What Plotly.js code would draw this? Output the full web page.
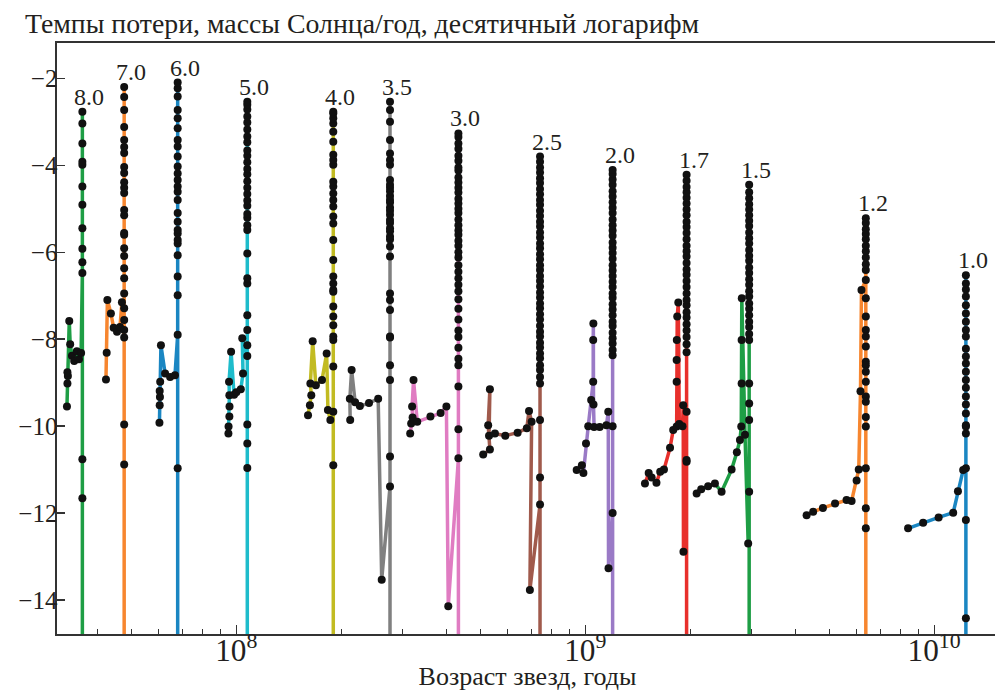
<!DOCTYPE html>
<html>
<head>
<meta charset="utf-8">
<script src="https://cdn.plot.ly/plotly-3.0.1.min.js"></script>
<style>
  html, body { margin: 0; padding: 0; overflow: hidden; background: #fff; }
  #chart { width: 1000px; height: 691px; }
</style>
</head>
<body>
<div id="chart"></div>
<script>
// Mass-loss tracks: age in years, log10 of mass-loss rate (M_sun / yr).
// Each track: early evolution (age/lg pairs), then the final spike at a
// nearly fixed age (tip), with its rising and falling values.

// 8.0 M_sun
const m80_age  = [3.27e7, 3.28e7, 3.29e7, 3.28e7, 3.32e7, 3.34e7, 3.38e7, 3.43e7, 3.49e7, 3.54e7, 3.59e7];
const m80_lg   = [-9.55, -9.02, -8.85, -8.76, -7.58, -8.12, -8.38, -8.50, -8.28, -8.46, -8.32];
const m80_tip  = 3.62e7;
const m80_up   = [-6.48, -6.23, -5.92, -5.45, -4.91, -4.49, -3.99, -3.92, -3.50, -3.04, -2.77];
const m80_down = [-10.76, -11.66, -17];

// 7.0 M_sun
const m70_age  = [4.23e7, 4.25e7, 4.27e7, 4.37e7, 4.45e7, 4.55e7, 4.64e7, 4.70e7];
const m70_lg   = [-8.93, -8.31, -7.10, -7.41, -7.74, -7.83, -7.72, -7.15];
const m70_tip  = 4.77e7;
const m70_up   = [-7.96, -7.79, -7.56, -7.29, -6.95, -6.60, -6.37, -6.09, -5.91, -5.60, -5.56, -5.15, -5.03,
                  -4.64, -4.52, -4.39, -4.18, -4.04, -3.72, -3.58, -3.42, -3.12, -2.73, -2.43, -2.20];
const m70_down = [-9.96, -10.88, -17];

// 6.0 M_sun
const m60_age  = [6.02e7, 6.03e7, 6.04e7, 6.03e7, 6.05e7, 6.08e7, 6.25e7, 6.46e7, 6.67e7];
const m60_lg   = [-9.92, -9.52, -9.33, -9.19, -8.98, -8.14, -8.79, -8.87, -8.83];
const m60_tip  = 6.79e7;
const m60_up   = [-7.90, -6.99, -6.56, -6.07, -5.80, -5.72, -5.57, -5.49, -5.30, -5.10, -4.80, -4.61, -4.49,
                  -4.34, -4.19, -4.03, -3.80, -3.57, -3.42, -3.15, -2.92, -2.73, -2.42, -2.23, -2.10];
const m60_down = [-10.97, -17];

// 5.0 M_sun
const m50_age  = [9.49e7, 9.50e7, 9.55e7, 9.56e7, 9.55e7, 9.53e7, 9.66e7, 9.85e7, 1.00e8, 1.03e8, 1.045e8, 1.04e8];
const m50_lg   = [-10.17, -10.01, -9.78, -9.55, -9.29, -8.98, -8.29, -9.28, -9.22, -9.15, -8.79, -7.98];
const m50_tip  = 1.075e8;
const m50_up   = [-8.39, -8.14, -7.79, -7.45, -6.72, -6.60, -6.03, -5.49, -5.38, -5.21, -5.12, -4.93, -4.81,
                  -4.66, -4.52, -4.37, -4.21, -4.09, -3.93, -3.78, -3.66, -3.47, -3.34, -3.18, -3.02, -2.88,
                  -2.72, -2.61, -2.54];
const m50_down = [-9.96, -10.40, -10.96, -17];

// 4.0 M_sun
const m40_age  = [1.605e8, 1.625e8, 1.64e8, 1.63e8, 1.655e8, 1.69e8, 1.76e8, 1.815e8, 1.83e8, 1.86e8];
const m40_lg   = [-9.75, -9.52, -9.29, -9.02, -8.05, -9.06, -8.94, -8.33, -9.63, -9.86];
const m40_tip  = 1.896e8;
const m40_up   = [-9.67, -8.63, -8.02, -7.94, -7.68, -7.48, -7.25, -6.91, -6.87, -6.72, -6.56, -6.18, -5.72,
                  -5.34, -5.18, -4.95, -4.80, -4.65, -4.49, -4.38, -3.99, -3.88, -3.76, -3.46, -3.23, -3.04,
                  -2.92, -2.81, -2.77];
const m40_down = [-10.90, -17];

// 3.5 M_sun
const m35_age  = [2.12e8, 2.115e8, 2.14e8, 2.19e8, 2.26e8, 2.40e8, 2.55e8, 2.61e8];
const m35_lg   = [-9.86, -9.37, -8.71, -9.45, -9.54, -9.47, -9.37, -13.53];
const m35_tip  = 2.757e8;
const m35_up   = [-11.39, -10.70, -8.94, -8.60, -7.96, -7.94, -7.33, -7.10, -6.95, -6.10, -5.87, -5.71, -5.64,
                  -5.52, -5.45, -5.33, -5.26, -5.14, -5.05, -4.97, -4.86, -4.80, -4.71, -4.60, -4.52, -4.45,
                  -4.34, -3.99, -3.88, -3.73, -3.42, -3.00, -2.73, -2.54];
const m35_down = [-17];

// 3.0 M_sun
const m30_age  = [3.15e8, 3.17e8, 3.20e8, 3.19e8, 3.22e8, 3.30e8, 3.60e8, 3.85e8, 4.00e8, 4.05e8];
const m30_lg   = [-10.17, -9.94, -9.80, -9.55, -8.94, -9.90, -9.78, -9.70, -9.55, -14.14];
const m30_tip  = 4.33e8;
const m30_up   = [-10.74, -10.07, -9.09, -8.60, -8.45, -8.20, -7.95, -7.80, -7.55, -7.30, -7.08, -6.90, -6.75,
                  -6.60, -6.45, -6.30, -6.12, -6.00, -5.85, -5.74, -5.60, -5.50, -5.38, -5.25, -5.10, -5.00,
                  -4.88, -4.77, -4.63, -4.52, -4.40, -4.28, -4.12, -4.05, -3.90, -3.78, -3.62, -3.50, -3.35, -3.27];
const m30_down = [-17];

// 2.5 M_sun
const m25_age  = [5.10e8, 5.33e8, 5.27e8, 5.33e8, 5.30e8, 5.51e8, 5.90e8, 6.40e8, 6.80e8, 6.90e8, 7.02e8, 6.94e8];
const m25_lg   = [-10.65, -10.54, -9.98, -9.15, -10.22, -10.17, -10.22, -10.15, -10.05, -9.65, -9.90, -13.77];
const m25_tip  = 7.42e8;
const m25_up   = [-11.80, -11.18, -9.86, -9.02, -8.87, -8.71, -8.60, -8.44, -8.33, -8.19, -8.08, -7.94, -7.83,
                  -7.69, -7.55, -7.43, -7.29, -7.18, -7.04, -6.93, -6.79, -6.66, -6.55, -6.41, -6.30, -6.16,
                  -6.05, -5.91, -5.80, -5.66, -5.55, -5.41, -5.30, -5.17, -5.05, -4.91, -4.80, -4.67, -4.55,
                  -4.41, -4.30, -4.17, -4.05, -3.92, -3.80];
const m25_down = [-17];

// 2.0 M_sun
const m20_age  = [9.45e8, 9.78e8, 9.88e8, 1.005e9, 1.02e9, 1.04e9, 1.054e9, 1.054e9, 1.055e9, 1.056e9, 1.06e9,
                  1.10e9, 1.15e9, 1.164e9, 1.166e9];
const m20_lg   = [-11.01, -10.90, -11.08, -10.40, -10.00, -9.40, -8.98, -8.02, -7.64, -9.50, -10.02,
                  -10.02, -9.98, -9.67, -13.27];
const m20_tip  = 1.198e9;
const m20_up   = [-12.00, -10.00, -8.37, -8.25, -8.10, -7.98, -7.85, -7.70, -7.60, -7.45, -7.32, -7.20, -7.05,
                  -6.95, -6.80, -6.68, -6.55, -6.42, -6.30, -6.15, -6.02, -5.90, -5.78, -5.62, -5.50, -5.38,
                  -5.25, -5.10, -4.98, -4.85, -4.72, -4.60, -4.45, -4.33, -4.20, -4.11];
const m20_down = [-17];

// 1.7 M_sun
const m17_age  = [1.483e9, 1.52e9, 1.55e9, 1.60e9, 1.64e9, 1.681e9, 1.75e9, 1.787e9, 1.828e9, 1.828e9, 1.828e9,
                  1.830e9, 1.835e9, 1.848e9, 1.86e9, 1.90e9, 1.909e9, 1.912e9];
const m17_lg   = [-11.32, -11.08, -11.18, -11.30, -11.05, -11.00, -10.50, -10.09, -10.01, -8.98, -8.48,
                  -8.02, -7.48, -7.16, -9.95, -10.00, -9.52, -12.89];
const m17_tip  = 1.952e9;
const m17_up   = [-10.82, -10.78, -9.67, -8.30, -8.12, -7.95, -7.80, -7.66, -7.50, -7.38, -7.22, -7.10, -6.95,
                  -6.80, -6.66, -6.52, -6.40, -6.25, -6.10, -5.98, -5.85, -5.70, -5.56, -5.42, -5.30, -5.15,
                  -5.02, -4.88, -4.75, -4.62, -4.50, -4.36, -4.22];
const m17_down = [-17];

// 1.5 M_sun
const m15_age  = [2.086e9, 2.15e9, 2.25e9, 2.353e9, 2.459e9, 2.627e9, 2.72e9, 2.776e9, 2.80e9, 2.807e9, 2.807e9,
                  2.81e9, 2.87e9, 2.931e9];
const m15_lg   = [-11.55, -11.45, -11.38, -11.32, -11.51, -11.00, -10.60, -10.32, -10.01, -9.02, -8.02,
                  -7.06, -10.20, -12.70];
const m15_tip  = 2.95e9;
const m15_up   = [-11.51, -9.86, -9.48, -9.02, -8.02, -7.88, -7.72, -7.60, -7.45, -7.30, -7.18, -7.02, -6.90,
                  -6.75, -6.62, -6.48, -6.35, -6.20, -6.08, -5.95, -5.80, -5.68, -5.55, -5.40, -5.28, -5.15,
                  -5.02, -4.90, -4.76, -4.62, -4.45];
const m15_down = [-17];

// 1.2 M_sun
const m12_age  = [4.31e9, 4.50e9, 4.80e9, 5.20e9, 5.61e9, 5.80e9, 5.995e9, 6.08e9, 6.15e9, 6.19e9];
const m12_lg   = [-12.05, -11.97, -11.88, -11.78, -11.70, -11.72, -11.25, -11.00, -9.20, -6.87];
const m12_tip  = 6.37e9;
const m12_up   = [-6.64, -6.41, -6.28, -6.12, -5.98, -5.85, -5.70, -5.58, -5.47, -5.33, -5.22];
const m12_down = [-7.06, -7.48, -7.79, -7.94, -8.17, -8.52, -8.60, -8.75, -8.98, -9.32, -9.44, -9.79,
                  -10.01, -10.97, -11.89, -12.35, -17];

// 1.0 M_sun
const m10_age  = [8.42e9, 9.3e9, 1.03e10, 1.134e10, 1.17e10, 1.211e10];
const m10_lg   = [-12.35, -12.22, -12.10, -11.99, -11.50, -11.01];
const m10_tip  = 1.233e10;
const m10_up   = [-10.97, -10.17, -9.98, -9.71, -9.50, -9.32, -9.12, -8.94, -8.75, -8.56, -8.40, -8.22, -7.94,
                  -7.79, -7.60, -7.41, -7.22, -7.02, -6.86, -6.72, -6.53];
const m10_down = [-10.01, -12.16, -14.42, -17];

const massLabels = ['8.0', '7.0', '6.0', '5.0', '4.0', '3.5', '3.0', '2.5', '2.0', '1.7', '1.5', '1.2', '1.0'];
const trackColors = ['#1e9e45', '#f7862f', '#1a86c2', '#1ebccb', '#c2bb22', '#808080', '#e07cc2',
                     '#a05a4c', '#9a7ac6', '#e8302c', '#1e9e45', '#f7862f', '#1a86c2'];

// Y-axis ticks (log10 of mass-loss rate)
const yTickVals = [-14, -12, -10, -8, -6, -4, -2];
const yTickText = ['\u221214', '\u221212', '\u221210', '\u22128', '\u22126', '\u22124', '\u22122'];

const trackData = [
  [m80_age, m80_lg, m80_tip, m80_up, m80_down],
  [m70_age, m70_lg, m70_tip, m70_up, m70_down],
  [m60_age, m60_lg, m60_tip, m60_up, m60_down],
  [m50_age, m50_lg, m50_tip, m50_up, m50_down],
  [m40_age, m40_lg, m40_tip, m40_up, m40_down],
  [m35_age, m35_lg, m35_tip, m35_up, m35_down],
  [m30_age, m30_lg, m30_tip, m30_up, m30_down],
  [m25_age, m25_lg, m25_tip, m25_up, m25_down],
  [m20_age, m20_lg, m20_tip, m20_up, m20_down],
  [m17_age, m17_lg, m17_tip, m17_up, m17_down],
  [m15_age, m15_lg, m15_tip, m15_up, m15_down],
  [m12_age, m12_lg, m12_tip, m12_up, m12_down],
  [m10_age, m10_lg, m10_tip, m10_up, m10_down]
];

const serif = 'Liberation Serif, Times New Roman, serif';
const ink = '#231f20';

const traces = trackData.map(([age, lg, tip, up, down], i) => ({
  type: 'scatter',
  mode: 'lines+markers',
  x: age.concat(up.map(() => tip), down.map(() => tip)),
  y: lg.concat(up, down),
  line: { color: trackColors[i], width: 3.5 },
  marker: { color: '#111', size: 8 },
  hoverinfo: 'skip',
  showlegend: false
}));

// Mass labels sit just above the highest point of each spike.
const annotations = trackData.map(([age, lg, tip, up], i) => ({
  x: Math.log10(tip),
  y: Math.max(...up),
  xref: 'x', yref: 'y',
  text: massLabels[i],
  showarrow: false,
  xanchor: 'center', yanchor: 'bottom',
  xshift: 7, yshift: 0,
  font: { family: serif, size: 24, color: ink }
}));

const layout = {
  width: 1000, height: 691,
  margin: { l: 57, r: 2, t: 43, b: 57 },
  paper_bgcolor: '#fff', plot_bgcolor: '#fff',
  font: { family: serif, size: 24, color: ink },
  title: {
    text: 'Темпы потери, массы Солнца/год, десятичный логарифм',
    font: { family: serif, size: 27.8, color: ink },
    xref: 'container', x: 0.025, xanchor: 'left',
    yref: 'container', y: 0.966, yanchor: 'middle'
  },
  xaxis: {
    type: 'log', range: [7.486, 10.183], dtick: 1, exponentformat: 'power',
    ticks: 'inside', ticklen: 9, tickwidth: 1.3, tickcolor: '#333',
    showline: true, linecolor: '#333', linewidth: 1.6, mirror: true,
    showgrid: false, zeroline: false,
    minor: { ticks: 'inside', ticklen: 5, tickwidth: 1.1, tickcolor: '#333', dtick: 'D1', showgrid: false },
    ticklabelstandoff: -11,
    tickfont: { family: serif, size: 25, color: ink },
    title: { text: 'Возраст звезд, годы', font: { family: serif, size: 26, color: ink }, standoff: 9 }
  },
  yaxis: {
    range: [-14.78, -1.19], tickmode: 'array', tickvals: yTickVals, ticktext: yTickText,
    ticks: 'inside', ticklen: 8, tickwidth: 1.3, tickcolor: '#333',
    showline: true, linecolor: '#333', linewidth: 1.6, mirror: true,
    showgrid: false, zeroline: false,
    ticklabelstandoff: -7,
    tickfont: { family: serif, size: 25, color: ink }
  },
  annotations: annotations
};

Plotly.newPlot('chart', traces, layout, { displayModeBar: false, staticPlot: true });
</script>
</body>
</html>
